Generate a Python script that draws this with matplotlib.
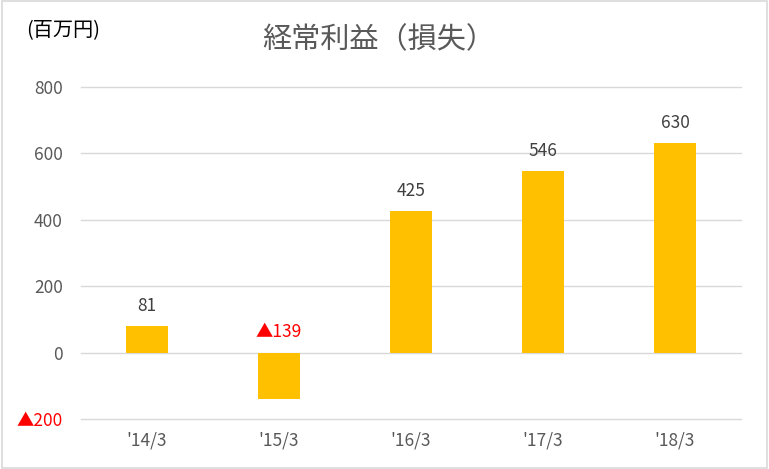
import matplotlib
matplotlib.use("Agg")
import matplotlib.pyplot as plt
from matplotlib.patches import Rectangle

plt.rcParams['font.family'] = ['Noto Sans CJK JP', 'DejaVu Sans']

categories = ["'14/3", "'15/3", "'16/3", "'17/3", "'18/3"]
values = [81, -139, 425, 546, 630]
yticks = [-200, 0, 200, 400, 600, 800]
title = "経常利益（損失）"
unit_label = "(百万円)"

def fmt(v):
    return f"▲{abs(v)}" if v < 0 else f"{v}"

fig = plt.figure(figsize=(7.69, 4.69), dpi=100)
fig.patches.append(Rectangle((0.002, 0.003), 0.996, 0.994, transform=fig.transFigure,
                             fill=False, edgecolor='#D9D9D9', linewidth=1.2))
ax = fig.add_axes([81/769, 1-419/469, 660/769, 332/469])

x = list(range(len(categories)))
ax.bar(x, values, width=0.32, color='#FFC000', zorder=3)
ax.set_xlim(-0.5, len(categories)-0.5)
ax.set_ylim(-200, 800)
ax.set_yticks(yticks)
ax.set_yticklabels([fmt(v) for v in yticks])
ax.set_xticks(x)
ax.set_xticklabels(categories)
ax.tick_params(axis='both', length=0, labelsize=12.5, colors='#595959')
for lbl, v in zip(ax.get_yticklabels(), yticks):
    lbl.set_color('#FF0000' if v < 0 else '#595959')
ax.tick_params(axis='y', pad=13)
ax.tick_params(axis='x', pad=9)
ax.grid(axis='y', color='#D9D9D9', linewidth=1, zorder=0)
for gl in ax.get_ygridlines():
    gl.set_clip_on(False)
for s in ax.spines.values():
    s.set_visible(False)

for xi, v in zip(x, values):
    ax.annotate(fmt(v), (xi, max(v, 0)), xytext=(0, 8), textcoords='offset points',
                ha='center', va='bottom', fontsize=12.5,
                color='#FF0000' if v < 0 else '#404040')

fig.text(379/769, 1-40/469, title, ha='center', va='center',
         fontsize=21, color='#595959')
fig.text(26/769, 1-31/469, unit_label, ha='left', va='center', fontsize=14.5, color='#000000')

fig.savefig("out.png", dpi=100)
